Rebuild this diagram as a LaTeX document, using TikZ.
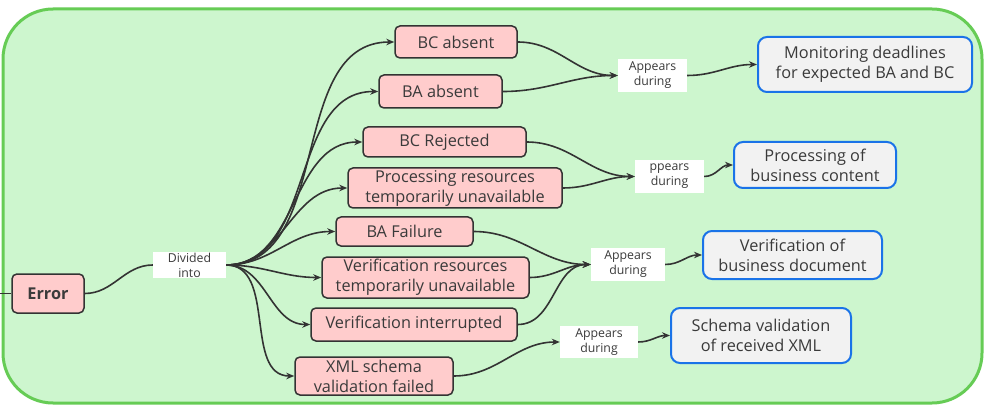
\documentclass[tikz,border=0pt]{standalone}
\usepackage{fontspec}
\setmainfont{Open Sans}
\usetikzlibrary{arrows.meta}
\definecolor{outerfill}{HTML}{CDF6CE}
\definecolor{outerdraw}{HTML}{66CC55}
\definecolor{pinkfill}{HTML}{FFCCCC}
\definecolor{boxline}{HTML}{333333}
\definecolor{bluedraw}{HTML}{1A73E8}
\definecolor{greyfill}{HTML}{F2F2F2}
\definecolor{txt}{HTML}{3A3A3A}
\tikzset{
  errbox/.style={draw=boxline, fill=pinkfill, line width=1.5pt, rounded corners=5pt,
    inner sep=0pt, align=center, text=txt, font=\fontsize{16.3}{20}\selectfont},
  stagebox/.style={draw=bluedraw, fill=greyfill, line width=2pt, rounded corners=9pt,
    inner sep=0pt, align=center, text=txt, font=\fontsize{16.3}{20}\selectfont},
  relbox/.style={fill=white, inner sep=0pt, align=center, text=txt,
    font=\fontsize{12.3}{15}\selectfont},
  conn/.style={draw=boxline, line width=1.6pt},
  arr/.style={conn, -{Stealth[length=8pt,width=6.5pt]}},
}
\begin{document}
\begin{tikzpicture}[x=1pt,y=-1pt]
\useasboundingbox (0,0) rectangle (986,409);
\fill[white] (0,0) rectangle (986,409);
\draw[fill=outerfill, draw=outerdraw, line width=3pt, rounded corners=50pt] (3,9) rectangle (982,403);

% error root and relation
\node[errbox, minimum width=72pt, minimum height=39pt, font=\fontsize{16.3}{20}\selectfont\bfseries] (err) at (48,293.5) {Error};
\node[relbox, minimum width=73pt, minimum height=26pt] (div) at (189.5,265) {Divided\\into};

% error kinds
\node[errbox, minimum width=122pt, minimum height=32pt] (bca) at (456,42) {BC absent};
\node[errbox, minimum width=123pt, minimum height=33pt] (baa) at (440.5,91.5) {BA absent};
\node[errbox, minimum width=163pt, minimum height=30pt] (bcr) at (444.5,142) {BC Rejected};
\node[errbox, minimum width=214pt, minimum height=40pt] (pres) at (455,188) {Processing resources\\temporarily unavailable};
\node[errbox, minimum width=137pt, minimum height=29pt] (baf) at (404.5,231.5) {BA Failure};
\node[errbox, minimum width=207pt, minimum height=41pt] (vres) at (425.5,277.5) {Verification resources\\temporarily unavailable};
\node[errbox, minimum width=206pt, minimum height=33pt] (vint) at (414,324.5) {Verification interrupted};
\node[errbox, minimum width=158pt, minimum height=38pt] (xml) at (374,376) {XML schema\\validation failed};

% relation labels
\node[relbox, minimum width=69pt, minimum height=33pt] (a1) at (652.5,75.5) {Appears\\during};
\node[relbox, minimum width=69pt, minimum height=33pt] (a2) at (669.5,176.5) {ppears\\during};
\node[relbox, minimum width=74pt, minimum height=33pt] (a3) at (628,264.5) {Appears\\during};
\node[relbox, minimum width=78pt, minimum height=32pt] (a4) at (599,342) {Appears\\during};

% stages
\node[stagebox, minimum width=214pt, minimum height=55pt] (mon) at (865,64.5) {Monitoring deadlines\\for expected BA and BC};
\node[stagebox, minimum width=162pt, minimum height=46pt] (pbc) at (815,165) {Processing of\\business content};
\node[stagebox, minimum width=179pt, minimum height=48pt] (vbd) at (792.5,255) {Verification of\\business document};
\node[stagebox, minimum width=180pt, minimum height=55pt] (svx) at (761,335.5) {Schema validation\\of received XML};

% left stub
\coordinate (lstub) at (0,293.5);
\draw[conn] (lstub) -- (err.west);

% error -> divided
\draw[conn] (err.east) to[out=0,in=180] (div.west);

% divided -> kinds
\foreach \t in {bca,baa,bcr,pres,baf,vres,vint,xml}
  \draw[arr] (div.east) to[out=0,in=180] (\t.west);

% kinds -> relations
\draw[arr] (bca.east) to[out=0,in=180] (a1.west);
\draw[arr] (baa.east) to[out=0,in=180] (a1.west);
\draw[arr] (bcr.east) to[out=0,in=180] (a2.west);
\draw[arr] (pres.east) to[out=0,in=180] (a2.west);
\draw[arr] (baf.east) to[out=0,in=180] (a3.west);
\draw[arr] (vres.east) to[out=0,in=180] (a3.west);
\draw[arr] (vint.east) to[out=0,in=180] (a3.west);
\draw[arr] (xml.east) to[out=0,in=180] (a4.west);

% relations -> stages
\draw[arr] (a1.east) to[out=0,in=180] (mon.west);
\draw[arr] (a2.east) to[out=0,in=180] (pbc.west);
\draw[arr] (a3.east) to[out=0,in=180] (vbd.west);
\draw[arr] (a4.east) to[out=0,in=180] (svx.west);
\end{tikzpicture}
\end{document}
